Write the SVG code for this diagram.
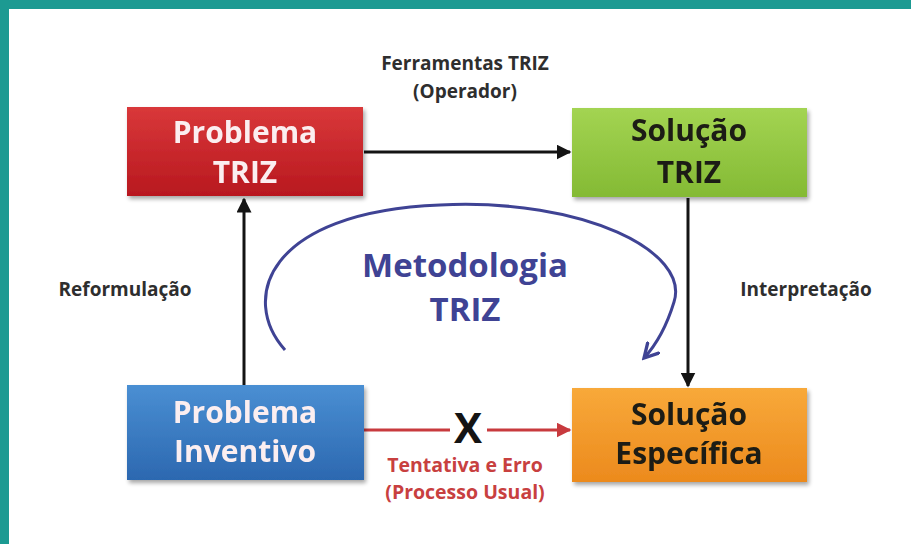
<svg xmlns="http://www.w3.org/2000/svg" width="911" height="544" viewBox="0 0 911 544">
  <style>
    .box-text { font-family: "Open Sans", "Noto Sans", "DejaVu Sans", sans-serif; font-weight: 700; font-size: 30px; text-anchor: middle; }
    .light { fill: #fbeef0; }
    .dark { fill: #1d1d12; }
    .label { font-family: "Open Sans", "Noto Sans", sans-serif; font-weight: 700; font-size: 19px; fill: #2e2e2e; text-anchor: middle; }
    .red-label { font-family: "Open Sans", "Noto Sans", sans-serif; font-weight: 700; font-size: 19.5px; fill: #c8403f; text-anchor: middle; }
    .method { font-family: "Open Sans", "Noto Sans", sans-serif; font-weight: 700; font-size: 33px; fill: #3f4394; text-anchor: middle; }
    .conn { stroke: #141414; stroke-width: 3; fill: none; }
  </style>
  <defs>
    <linearGradient id="gRed" x1="0" y1="0" x2="0" y2="1">
      <stop offset="0" stop-color="#d9383a"/>
      <stop offset="1" stop-color="#b8181f"/>
    </linearGradient>
    <linearGradient id="gGreen" x1="0" y1="0" x2="0" y2="1">
      <stop offset="0" stop-color="#a3d452"/>
      <stop offset="1" stop-color="#84ba34"/>
    </linearGradient>
    <linearGradient id="gBlue" x1="0" y1="0" x2="0" y2="1">
      <stop offset="0" stop-color="#4a8fd3"/>
      <stop offset="1" stop-color="#2c68b0"/>
    </linearGradient>
    <linearGradient id="gOrange" x1="0" y1="0" x2="0" y2="1">
      <stop offset="0" stop-color="#f8a93a"/>
      <stop offset="1" stop-color="#ec8a1d"/>
    </linearGradient>
    <filter id="shadow" x="-10%" y="-10%" width="125%" height="130%">
      <feGaussianBlur in="SourceAlpha" stdDeviation="2"/>
      <feOffset dx="2" dy="3"/>
      <feComponentTransfer><feFuncA type="linear" slope="0.35"/></feComponentTransfer>
      <feMerge><feMergeNode/><feMergeNode in="SourceGraphic"/></feMerge>
    </filter>
    <marker id="arrBlack" viewBox="0 0 10 10" refX="9" refY="5" markerWidth="5" markerHeight="5" orient="auto">
      <path d="M0,0 L10,5 L0,10 z" fill="#141414"/>
    </marker>
    <marker id="arrRed" viewBox="0 0 10 10" refX="9" refY="5" markerWidth="5" markerHeight="5" orient="auto">
      <path d="M0,0 L10,5 L0,10 z" fill="#c83a3e"/>
    </marker>
    <marker id="arrBlue" viewBox="0 0 12 12" refX="10" refY="6" markerWidth="6" markerHeight="6" orient="auto">
      <path d="M1,1 L10,6 L1,11" fill="none" stroke="#3f4394" stroke-width="2.2" stroke-linecap="round"/>
    </marker>
  </defs>

  <!-- frame -->
  <rect x="0" y="0" width="911" height="544" fill="#ffffff"/>
  <rect x="0" y="0" width="911" height="9" fill="#1c9a92"/>
  <rect x="0" y="0" width="9" height="544" fill="#1c9a92"/>

  <!-- connectors -->
  <g id="connectors">
    <line class="conn" x1="364" y1="152" x2="570" y2="152" marker-end="url(#arrBlack)"/>
    <line class="conn" x1="688" y1="198" x2="688" y2="386" marker-end="url(#arrBlack)"/>
    <line class="conn" x1="244" y1="385" x2="244" y2="199" marker-end="url(#arrBlack)"/>
    <line x1="364" y1="430" x2="450" y2="430" stroke="#c83a3e" stroke-width="3"/>
    <line x1="487" y1="430" x2="570" y2="430" stroke="#c83a3e" stroke-width="3" marker-end="url(#arrRed)"/>
    <path d="M285,350 C240,300 265,212 440,205 C585,198 690,252 674,302 C667,325 656,345 644,358" fill="none" stroke="#3f4394" stroke-width="3" marker-end="url(#arrBlue)"/>
  </g>

  <!-- nodes -->
  <g id="problema-triz" filter="url(#shadow)">
    <rect x="127" y="107" width="236" height="89" fill="url(#gRed)"/>
    <text class="box-text light" x="245" y="143">Problema</text>
    <text class="box-text light" x="245" y="183">TRIZ</text>
  </g>
  <g id="solucao-triz" filter="url(#shadow)">
    <rect x="572" y="108" width="235" height="89" fill="url(#gGreen)"/>
    <text class="box-text dark" x="689" y="141">Solução</text>
    <text class="box-text dark" x="689" y="183">TRIZ</text>
  </g>
  <g id="problema-inventivo" filter="url(#shadow)">
    <rect x="127" y="385" width="237" height="95" fill="url(#gBlue)"/>
    <text class="box-text light" x="245" y="423">Problema</text>
    <text class="box-text light" x="245" y="462">Inventivo</text>
  </g>
  <g id="solucao-especifica" filter="url(#shadow)">
    <rect x="572" y="388" width="235" height="94" fill="url(#gOrange)"/>
    <text class="box-text dark" x="689" y="425">Solução</text>
    <text class="box-text dark" x="689" y="464">Específica</text>
  </g>

  <!-- labels -->
  <g id="labels">
    <text class="label" x="465" y="70">Ferramentas TRIZ</text>
    <text class="label" x="465" y="98">(Operador)</text>
    <text class="label" x="125" y="296">Reformulação</text>
    <text class="label" x="806" y="296">Interpretação</text>
    <text class="method" x="465" y="277">Metodologia</text>
    <text class="method" x="465" y="321">TRIZ</text>
    <text x="468" y="443" font-family="Open Sans, Noto Sans, sans-serif" font-weight="700" font-size="42" fill="#141414" text-anchor="middle">X</text>
    <text class="red-label" x="465" y="472">Tentativa e Erro</text>
    <text class="red-label" x="465" y="499">(Processo Usual)</text>
  </g>
</svg>
